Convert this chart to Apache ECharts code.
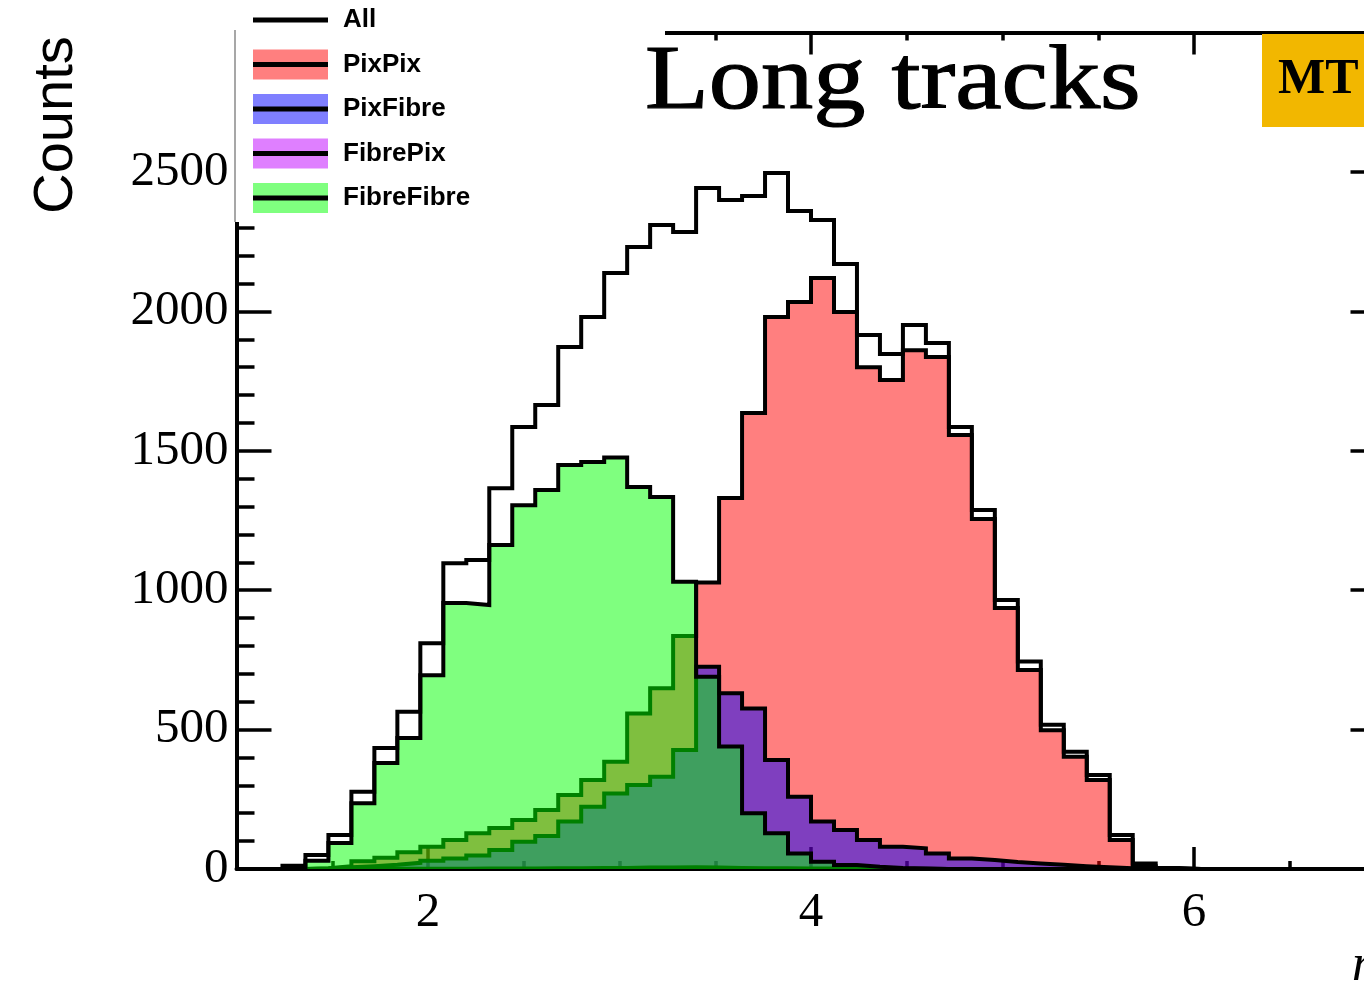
<!DOCTYPE html>
<html>
<head>
<meta charset="utf-8">
<title>Long tracks – eta</title>
<script src="https://cdn.jsdelivr.net/npm/echarts@6/dist/echarts.min.js"></script>
<style>
  html, body { margin: 0; padding: 0; background: #ffffff; }
  #chart { width: 1364px; height: 991px; }
</style>
</head>
<body>
<div id="chart"></div>
<script>
// eta bin edges (50 bins, 1 to 7)
const etaEdges = [1.00, 1.12, 1.24, 1.36, 1.48, 1.60, 1.72, 1.84, 1.96, 2.08,
                  2.20, 2.32, 2.44, 2.56, 2.68, 2.80, 2.92, 3.04, 3.16, 3.28,
                  3.40, 3.52, 3.64, 3.76, 3.88, 4.00, 4.12, 4.24, 4.36, 4.48,
                  4.60, 4.72, 4.84, 4.96, 5.08, 5.20, 5.32, 5.44, 5.56, 5.68,
                  5.80, 5.92, 6.04, 6.16, 6.28, 6.40, 6.52, 6.64, 6.76, 6.88, 7.00];

// bin contents per track category
const allTracks = [0, 0, 12, 50, 122, 277, 434, 564, 810, 1097,
                   1108, 1366, 1585, 1664, 1872, 1980, 2138, 2231, 2310, 2285,
                   2443, 2400, 2414, 2496, 2360, 2328, 2170, 1915, 1847, 1951,
                   1887, 1585, 1288, 965, 744, 517, 421, 337, 122, 20,
                   4, 0, 0, 0, 0, 0, 0, 0, 0, 0];
const pixPix = [0, 0, 0, 3, 10, 28, 40, 60, 80, 104,
                128, 147, 176, 212, 265, 319, 385, 558, 648, 836,
                1028, 1331, 1636, 1980, 2034, 2120, 1998, 1800, 1754, 1861,
                1836, 1557, 1255, 936, 714, 498, 403, 319, 104, 10,
                2, 0, 0, 0, 0, 0, 0, 0, 0, 0];
const pixFibre = [0, 0, 0, 2, 6, 10, 15, 22, 30, 38,
                  48, 68, 98, 118, 170, 223, 271, 301, 331, 427,
                  725, 630, 576, 391, 259, 170, 140, 104, 80, 74,
                  56, 38, 32, 25, 20, 15, 10, 6, 3, 1,
                  0, 0, 0, 0, 0, 0, 0, 0, 0, 0];
const fibrePix = [0, 0, 0, 0, 0, 0, 1, 1, 1, 1,
                  2, 2, 2, 3, 3, 4, 4, 5, 5, 6,
                  5, 4, 3, 3, 2, 2, 1, 1, 1, 1,
                  0, 0, 0, 0, 0, 0, 0, 0, 0, 0,
                  0, 0, 0, 0, 0, 0, 0, 0, 0, 0];
const fibreFibre = [0, 0, 5, 30, 93, 236, 380, 470, 695, 954,
                    947, 1162, 1305, 1359, 1449, 1460, 1476, 1370, 1334, 1030,
                    690, 439, 200, 128, 56, 26, 14, 8, 4, 2,
                    0, 0, 0, 0, 0, 0, 0, 0, 0, 0,
                    0, 0, 0, 0, 0, 0, 0, 0, 0, 0];

// axis ticks
const xMajorTicks = [2, 4, 6];
const legendNames = ['All', 'PixPix', 'PixFibre', 'FibrePix', 'FibreFibre'];

// semi-transparent fills, so overlapping categories blend
const fills = {
  All: null,
  PixPix: 'rgba(255,0,0,0.5)',
  PixFibre: 'rgba(0,0,255,0.5)',
  FibrePix: 'rgba(192,0,255,0.5)',
  FibreFibre: 'rgba(0,255,0,0.5)'
};
const histData = {
  All: allTracks,
  PixPix: pixPix,
  PixFibre: pixFibre,
  FibrePix: fibrePix,
  FibreFibre: fibreFibre
};

// step outline: one point per lower bin edge, plus the last upper edge
function histPoints(values) {
  const pts = values.map((v, i) => [etaEdges[i], v]);
  pts.push([etaEdges[etaEdges.length - 1], values[values.length - 1]]);
  return pts;
}

const SERIF = '"Liberation Serif", "Times New Roman", serif';
const SANS = '"Liberation Sans", Arial, sans-serif';

const series = legendNames.map((name, i) => {
  const s = {
    name: name,
    type: 'line',
    step: 'end',
    data: histPoints(histData[name]),
    symbol: 'none',
    z: 2 + i,
    silent: true,
    emphasis: { disabled: true },
    lineStyle: { color: '#000', width: 4, join: 'miter', cap: 'butt' },
    xAxisIndex: 0,
    yAxisIndex: 0
  };
  if (fills[name]) s.areaStyle = { color: fills[name], opacity: 1 };
  return s;
});

const tickStyle = { color: '#000', width: 3.5 };
function xAxisBase(position) {
  return {
    type: 'value', min: 1, max: 7, position: position,
    splitLine: { show: false }
  };
}
const plainNumber = v => String(v);

const option = {
  animation: false,
  backgroundColor: '#ffffff',
  // the frame runs past the right edge of the canvas (eta = 7 lies outside)
  grid: { left: 236.5, width: 1149, top: 32.6, bottom: 122, containLabel: false, outerBoundsMode: 'none' },
  xAxis: [
    Object.assign(xAxisBase('bottom'), {
      interval: 0.5,
      axisLine: { show: true, lineStyle: { color: '#000', width: 4 } },
      axisTick: { show: true, inside: true, length: 8, lineStyle: tickStyle },
      axisLabel: { show: false }
    }),
    Object.assign(xAxisBase('bottom'), {
      axisLine: { show: false },
      axisTick: { show: true, inside: true, length: 22, customValues: xMajorTicks, lineStyle: tickStyle },
      axisLabel: {
        show: true, customValues: xMajorTicks, margin: 20, formatter: plainNumber,
        fontSize: 49, fontFamily: SERIF, color: '#000'
      }
    }),
    Object.assign(xAxisBase('top'), {
      interval: 0.5,
      axisLine: { show: true, lineStyle: { color: '#000', width: 4 } },
      axisTick: { show: true, inside: true, length: 8, lineStyle: tickStyle },
      axisLabel: { show: false }
    }),
    Object.assign(xAxisBase('top'), {
      axisLine: { show: false },
      axisTick: { show: true, inside: true, length: 22, customValues: xMajorTicks, lineStyle: tickStyle },
      axisLabel: { show: false }
    })
  ],
  yAxis: [
    {
      type: 'value', min: 0, max: 3000, interval: 500, position: 'left',
      splitLine: { show: false },
      axisLine: { show: true, lineStyle: { color: '#000', width: 4 } },
      axisTick: { show: true, inside: true, length: 35, lineStyle: tickStyle },
      minorTick: { show: true, splitNumber: 5, length: 18, lineStyle: tickStyle },
      axisLabel: {
        show: true, margin: 8, showMaxLabel: false, formatter: plainNumber,
        fontSize: 49, fontFamily: SERIF, color: '#000'
      }
    },
    {
      type: 'value', min: 0, max: 3000, interval: 500, position: 'right',
      splitLine: { show: false },
      axisLine: { show: true, lineStyle: { color: '#000', width: 4 } },
      axisTick: { show: true, inside: true, length: 35, lineStyle: tickStyle },
      minorTick: { show: true, splitNumber: 5, length: 18, lineStyle: tickStyle },
      axisLabel: { show: false }
    }
  ],
  series: series
};

// legend box (drawn as graphics in the ROOT style: filled swatch with a line through it)
const legendRows = [
  { name: 'All', y: 20 },
  { name: 'PixPix', y: 64.5 },
  { name: 'PixFibre', y: 109 },
  { name: 'FibrePix', y: 153.5 },
  { name: 'FibreFibre', y: 198 }
];
const graphics = [
  { type: 'rect', z: 100, silent: true, shape: { x: 232, y: 0, width: 433, height: 222 }, style: { fill: '#ffffff' } },
  { type: 'line', z: 101, silent: true, shape: { x1: 235, y1: 30, x2: 235, y2: 222 }, style: { stroke: '#8a8a8a', lineWidth: 1.5 } }
];
legendRows.forEach(row => {
  if (fills[row.name]) {
    graphics.push({ type: 'rect', z: 101, silent: true,
      shape: { x: 253, y: row.y - 15, width: 75, height: 30 },
      style: { fill: fills[row.name] } });
  }
  graphics.push({ type: 'line', z: 102, silent: true,
    shape: { x1: 253, y1: row.y, x2: 328, y2: row.y },
    style: { stroke: '#000', lineWidth: 5 } });
  graphics.push({ type: 'text', z: 102, silent: true, x: 343, y: row.y,
    style: { text: row.name, font: 'bold 26px ' + SANS, fill: '#000',
             textAlign: 'left', textVerticalAlign: 'middle' } });
});
graphics.push(
  { type: 'text', z: 102, silent: true, x: 645, y: 84, scaleX: 1.16,
    style: { text: 'Long tracks', font: '90px ' + SERIF, fill: '#000',
             stroke: '#000', lineWidth: 1.2,
             textAlign: 'left', textVerticalAlign: 'middle' } },
  { type: 'rect', z: 101, silent: true, shape: { x: 1262, y: 34, width: 110, height: 93 },
    style: { fill: '#f2b700' } },
  { type: 'text', z: 102, silent: true, x: 1278, y: 80,
    style: { text: 'MT', font: 'bold 50px ' + SERIF, fill: '#000',
             textAlign: 'left', textVerticalAlign: 'middle' } },
  { type: 'text', z: 102, silent: true, x: 57, y: 125, rotation: Math.PI / 2,
    style: { text: 'Counts', font: '56px ' + SANS, fill: '#000',
             textAlign: 'center', textVerticalAlign: 'middle' } },
  { type: 'text', z: 102, silent: true, x: 1352, y: 966,
    style: { text: 'η', font: 'italic 52px ' + SERIF, fill: '#000',
             textAlign: 'left', textVerticalAlign: 'middle' } }
);
option.graphic = { elements: graphics };

const chart = echarts.init(document.getElementById('chart'), null, { renderer: 'canvas', width: 1364, height: 991 });
chart.setOption(option);
</script>
</body>
</html>
